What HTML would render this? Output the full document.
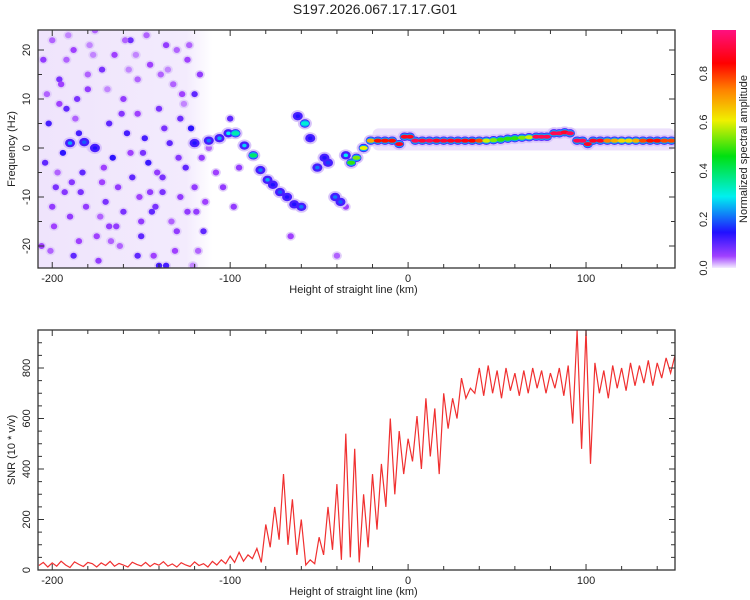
<!DOCTYPE html>
<html><head><meta charset="utf-8"><style>
body{margin:0;background:#fff;}
svg{display:block;font-family:"Liberation Sans",sans-serif;}
</style></head><body>
<svg id="chart" width="750" height="600" xmlns="http://www.w3.org/2000/svg">
<defs>
<linearGradient id="cbg" x1="0" y1="1" x2="0" y2="0">
<stop offset="0" stop-color="#f4ecff"/><stop offset="0.05" stop-color="#a040ff"/><stop offset="0.15" stop-color="#2010ff"/>
<stop offset="0.3" stop-color="#00f0f0"/><stop offset="0.47" stop-color="#00e010"/><stop offset="0.62" stop-color="#f0f000"/>
<stop offset="0.75" stop-color="#ff8000"/><stop offset="0.86" stop-color="#ff0000"/><stop offset="1" stop-color="#ff1080"/>
</linearGradient>
<linearGradient id="wash" x1="0" y1="0" x2="1" y2="0">
<stop offset="0" stop-color="#efe4fc"/><stop offset="0.85" stop-color="#f3ebfd"/><stop offset="1" stop-color="#ffffff"/>
</linearGradient>
<clipPath id="c1"><rect x="38" y="30" width="637" height="238"/></clipPath>
<clipPath id="c2"><rect x="38" y="330" width="637" height="240"/></clipPath>
</defs>
<text x="375" y="14" text-anchor="middle" font-size="14" fill="#222">S197.2026.067.17.17.G01</text>
<g id="top"></g>
<g id="bot"></g>
<g id="cb">
<rect x="712" y="30" width="24" height="238" fill="url(#cbg)"/>
<text transform="translate(747,149) rotate(-90)" text-anchor="middle" font-size="11" fill="#222">Normalized spectral amplitude</text>
</g>
</svg>
<script>
const xTicks=[-200,-100,0,100];
const fTicks=[-20,-10,0,10,20];
const snrTicks=[0,200,400,600,800];
const cbTicks=[0.0,0.2,0.4,0.6,0.8];
const snrStart=-207.5, snrStep=2.5;
const snrValues=[18,30,12,28,15,35,20,10,32,22,14,30,25,12,28,18,34,15,26,20,12,31,22,16,30,14,26,19,33,15,24,12,29,20,14,32,18,25,12,34,20,40,25,55,30,70,35,60,45,85,30,180,90,250,120,380,100,280,60,200,20,40,25,130,60,250,80,340,40,540,50,480,30,300,90,380,160,420,250,600,300,550,380,520,430,610,400,680,450,640,380,700,560,680,600,760,680,720,700,800,690,810,700,790,680,800,710,780,690,790,700,800,720,790,700,780,720,800,690,810,580,950,480,950,420,820,700,790,680,810,720,800,710,820,730,810,740,830,730,820,760,840,780,850];
const ridgeX=[-190,-182,-176,-120,-112,-106,-101,-97,-92,-87,-83,-79,-76,-72,-68,-64,-60,-62,-58,-55,-51,-47,-45,-41,-38,-35,-32,-29,-25,-21,-17,-13,-9,-5,-2,1,4,8,12,16,20,24,28,32,36,40,44,48,52,56,60,64,68,72,75,78,82,85,88,91,95,98,101,104,108,112,116,120,124,128,132,136,140,144,148];
const ridgeF=[1,1.2,0,1,1.5,2,3,3,0.5,-1.5,-4.5,-6.5,-7.5,-9,-10,-11.5,-12,6.5,5,2,-4,-2,-3,-10,-11,-1.5,-3,-2,0,1.5,1.5,1.5,1.5,0.8,2.3,2.3,1.5,1.5,1.5,1.5,1.5,1.5,1.5,1.5,1.5,1.5,1.5,1.6,1.7,1.9,2,2.1,2.2,2.3,2.3,2.3,3,3,3.2,3,1.5,1.5,0.8,1.5,1.5,1.5,1.5,1.5,1.5,1.5,1.5,1.5,1.5,1.5,1.5];
const ridgeA=[0.25,0.2,0.15,0.15,0.22,0.25,0.3,0.35,0.28,0.4,0.22,0.25,0.15,0.2,0.15,0.15,0.22,0.15,0.32,0.15,0.22,0.15,0.18,0.22,0.2,0.3,0.5,0.55,0.62,0.7,0.85,0.85,0.85,0.9,0.9,0.9,0.95,0.92,0.95,0.9,0.92,0.9,0.9,0.88,0.86,0.8,0.6,0.55,0.5,0.5,0.5,0.55,0.6,0.95,0.95,0.95,0.95,0.95,0.9,0.95,0.95,0.95,0.9,0.9,0.9,0.75,0.7,0.65,0.65,0.7,0.8,0.85,0.85,0.8,0.8];
const blobX=[-205,-200,-196,-192,-188,-185,-180,-176,-172,-168,-165,-160,-156,-152,-148,-145,-140,-136,-132,-128,-124,-120,-117,-204,-198,-190,-183,-175,-170,-162,-155,-150,-143,-138,-130,-125,-118,-202,-194,-186,-178,-166,-158,-146,-134,-122,-200,-188,-172,-160,-150,-140,-128,-115,-196,-180,-164,-152,-142,-130,-120,-206,-192,-174,-156,-138,-124,-112,-100,-95,-108,-66,-40,-35,-104,-98,-184,-144,-136,-152,-168,
-203,-199,-193,-187,-181,-177,-171,-167,-161,-157,-151,-147,-141,-137,-133,-127,-121,-116,-201,-195,-189,-179,-173,-163,-153,-149,-139,-131,-126,-119,-197,-185,-169,-159,-145,-135,-129,-123,-114,-191];
const blobF=[18,22,14,8,20,3,12,24,16,5,19,10,22,14,2,17,8,21,13,6,18,11,15,-3,-8,-14,-5,-18,-11,-20,-6,-15,-22,-9,-17,-4,-21,5,-1,10,0,-2,3,-3,1,4,-12,-22,-7,-13,-18,-24,-10,-17,9,15,-16,7,-12,20,-8,-20,18,-23,-1,-6,-13,0,6,-4,-5,-18,-22,-12,-8,-12,-9,-13,-24,-22,-16,
11,-16,-9,6,-12,19,-4,-19,7,16,-10,23,-5,4,-15,11,-24,-2,-21,13,-7,21,-14,-8,19,-1,15,-21,9,-13,-5,-19,12,22,-9,16,-2,21,-11,23];
const blobA=[0.06,0.04,0.08,0.1,0.05,0.12,0.06,0.04,0.08,0.1,0.05,0.06,0.09,0.04,0.12,0.05,0.08,0.06,0.04,0.09,0.05,0.1,0.06,0.1,0.08,0.06,0.1,0.05,0.08,0.04,0.1,0.06,0.05,0.08,0.06,0.1,0.04,0.12,0.14,0.08,0.12,0.14,0.12,0.13,0.1,0.14,0.06,0.1,0.05,0.08,0.1,0.12,0.06,0.1,0.05,0.04,0.06,0.05,0.08,0.04,0.06,0.05,0.04,0.06,0.05,0.08,0.06,0.04,0.1,0.06,0.05,0.05,0.04,0.05,0.06,0.06,0.08,0.1,0.12,0.1,0.06,
0.04,0.05,0.07,0.04,0.06,0.03,0.05,0.04,0.07,0.03,0.05,0.04,0.06,0.08,0.04,0.05,0.03,0.06,0.04,0.05,0.07,0.03,0.04,0.06,0.03,0.08,0.04,0.05,0.03,0.06,0.04,0.05,0.03,0.04,0.06,0.03,0.07,0.04,0.05,0.03];

const NS='http://www.w3.org/2000/svg';
function mk(t,a,p){const e=document.createElementNS(NS,t);for(const k in a)e.setAttribute(k,a[k]);p.appendChild(e);return e;}
const X0=38,X1=675,XMIN=-208,XMAX=150;
function xs(v){return X0+(v-XMIN)/(XMAX-XMIN)*(X1-X0);}
function fy(v){return 148-v*4.9;}
function sy(v){return 570-v*(202/800);}
function cy(v){return 268-v*243;}
const stops=[[0,[244,236,255]],[0.05,[160,64,255]],[0.15,[32,16,255]],[0.3,[0,240,240]],[0.47,[0,224,16]],[0.62,[240,240,0]],[0.75,[255,128,0]],[0.86,[255,0,0]],[1,[255,16,128]]];
function cmap(v){for(let i=1;i<stops.length;i++){if(v<=stops[i][0]){const a=stops[i-1],b=stops[i],t=(v-a[0])/(b[0]-a[0]);const c=a[1].map((q,j)=>Math.round(q+(b[1][j]-q)*t));return 'rgb('+c.join(',')+')';}}return 'rgb(255,16,128)';}

const topG=document.getElementById('top'),botG=document.getElementById('bot'),cbG=document.getElementById('cb');
const hm=mk('g',{'clip-path':'url(#c1)'},topG);


const wash=mk('rect',{x:xs(-208),y:30,width:xs(-110)-xs(-208),height:238,fill:'url(#wash)'},hm);


const band=mk('rect',{x:xs(-20),y:fy(4),width:xs(150)-xs(-20),height:fy(-0.5)-fy(4),fill:'#ece0fc',rx:6},hm);


for(let i=0;i<blobX.length;i++){
  const b=mk('ellipse',{cx:xs(blobX[i]),cy:fy(blobF[i]),rx:5,ry:4.5,fill:'#e2d0fa'},hm);
  
  
}
for(let i=0;i<blobX.length;i++){
  const b=mk('ellipse',{cx:xs(blobX[i]),cy:fy(blobF[i]),rx:3.2,ry:3,fill:cmap(blobA[i])},hm);
  
  
}
for(let i=0;i<ridgeX.length;i++){
  const b=mk('ellipse',{cx:xs(ridgeX[i]),cy:fy(ridgeF[i]),rx:7,ry:6,fill:'#d8c4fa'},hm);
  
  
}
for(let i=0;i<ridgeX.length;i++){
  const b=mk('ellipse',{cx:xs(ridgeX[i]),cy:fy(ridgeF[i]),rx:5,ry:4.2,fill:cmap(Math.min(ridgeA[i],0.12))},hm);
  
  
}
for(let i=0;i<ridgeX.length;i++){
  if(ridgeA[i]>0.3){const b=mk('ellipse',{cx:xs(ridgeX[i]),cy:fy(ridgeF[i]),rx:4.5,ry:3.3,fill:cmap(0.25)},hm);
  
  }
}
for(let i=0;i<ridgeX.length;i++){
  const b=mk('ellipse',{cx:xs(ridgeX[i]),cy:fy(ridgeF[i]),rx:ridgeA[i]>0.3?4:2.2,ry:ridgeA[i]>0.3?2:1.8,fill:cmap(ridgeA[i])},hm);
  
  
}
let d='';
for(let i=0;i<snrValues.length;i++){d+=(i?'L':'M')+xs(snrStart+i*snrStep).toFixed(1)+','+sy(snrValues[i]).toFixed(1);}
const ln=mk('path',{d:d,fill:'none',stroke:'#f03030','stroke-width':1.2,'clip-path':'url(#c2)'},botG);



function frame(g,y0,y1,yTicks,yfun,ylab,minorY){
  const r=mk('rect',{x:X0,y:y0,width:X1-X0,height:y1-y0,fill:'none',stroke:'#333','stroke-width':1.3},g);
  
  
  for(let v=-200;v<=140;v+=20){const x=xs(v),L=(v%100===0)?6:4;
    mk('line',{x1:x,y1:y1,x2:x,y2:y1-L,stroke:'#333'},g);mk('line',{x1:x,y1:y0,x2:x,y2:y0+L,stroke:'#333'},g);}
  xTicks.forEach(v=>{const t=mk('text',{x:xs(v),y:y1+14,'text-anchor':'middle','font-size':11,fill:'#222'},g);t.textContent=v;
    
    });
  const xl=mk('text',{x:(X0+X1)/2-3,y:y1+25,'text-anchor':'middle','font-size':11,fill:'#222'},g);xl.textContent='Height of straight line (km)';
  
  
  minorY.forEach(v=>{const y=yfun(v),L=yTicks.includes(v)?6:4;
    mk('line',{x1:X0,y1:y,x2:X0+L,y2:y,stroke:'#333'},g);mk('line',{x1:X1,y1:y,x2:X1-L,y2:y,stroke:'#333'},g);});
  yTicks.forEach(v=>{const y=yfun(v);const t=mk('text',{transform:'translate(30,'+y+') rotate(-90)','text-anchor':'middle','font-size':11,fill:'#222'},g);t.textContent=v;
    
    });
  const yl=mk('text',{transform:'translate(15,'+((y0+y1)/2)+') rotate(-90)','text-anchor':'middle','font-size':11,fill:'#222'},g);yl.textContent=ylab;
  
  
}
frame(topG,30,268,fTicks,fy,'Frequency (Hz)',[-20,-15,-10,-5,0,5,10,15,20]);
frame(botG,330,570,snrTicks,sy,'SNR (10 * v/v)',[0,50,100,150,200,250,300,350,400,450,500,550,600,650,700,750,800,850,900]);
cbTicks.forEach(v=>{const t=mk('text',{transform:'translate(707,'+cy(v)+') rotate(-90)','text-anchor':'middle','font-size':11,fill:'#222'},cbG);
  t.textContent=v.toFixed(1);
  
  });
</script>
</body></html>
